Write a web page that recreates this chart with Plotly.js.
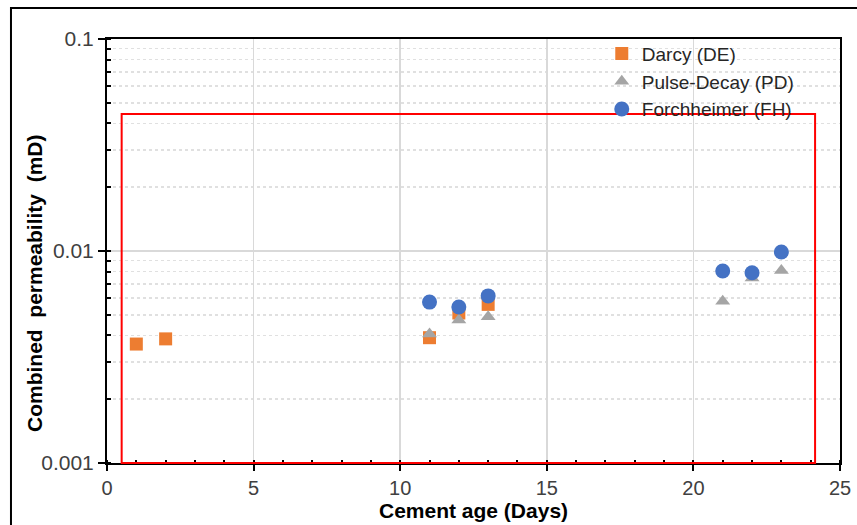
<!DOCTYPE html>
<html>
<head>
<meta charset="utf-8">
<script src="https://cdn.plot.ly/plotly-3.0.1.min.js"></script>
<style>html,body{margin:0;padding:0;background:#fff;}#chart{width:857px;height:525px;}</style>
</head>
<body>
<div id="chart"></div>
<script>
// Data
const darcyDays = [1, 2, 11, 12, 13];
const darcyPerm = [0.00364, 0.00385, 0.0039, 0.0051, 0.0056];

const pulseDays = [11, 12, 13, 21, 22, 23];
const pulsePerm = [0.00406, 0.00473, 0.0049, 0.0058, 0.00746, 0.0081];

const forchDays = [11, 12, 13, 21, 22, 23];
const forchPerm = [0.00574, 0.00544, 0.00614, 0.00805, 0.0079, 0.0099];

const yTickVals = [0.001, 0.01, 0.1];
const yTickText = ['0.001', '0.01', '0.1'];

const xTitle = 'Cement age (Days)';
const yTitle = 'Combined  permeability  (mD)';

const traces = [
  {x: darcyDays, y: darcyPerm, name: 'Darcy (DE)', mode: 'markers', type: 'scatter',
   marker: {symbol: 'square', size: 13, color: '#ED7D31'}},
  {x: pulseDays, y: pulsePerm, name: 'Pulse-Decay (PD)', mode: 'markers', type: 'scatter',
   marker: {symbol: 'triangle-up', size: 13, color: '#A5A5A5'}},
  {x: forchDays, y: forchPerm, name: 'Forchheimer (FH)', mode: 'markers', type: 'scatter',
   marker: {symbol: 'circle', size: 15, color: '#4472C4'}}
];

const layout = {
  width: 857, height: 525,
  margin: {l: 107, r: 17, t: 39, b: 62},
  paper_bgcolor: '#ffffff', plot_bgcolor: '#ffffff',
  font: {family: 'Liberation Sans, Arial, sans-serif', color: '#404040'},
  showlegend: true,
  legend: {x: 0.675, y: 1.01, xanchor: 'left', yanchor: 'top', bgcolor: 'rgba(0,0,0,0)',
           font: {size: 19, color: '#262626'}, tracegroupgap: 0, itemwidth: 30},
  xaxis: {
    range: [0, 25], dtick: 5, tick0: 0,
    showline: true, linecolor: '#000', linewidth: 2, mirror: true,
    ticks: 'outside', ticklen: 6, tickwidth: 2, tickcolor: '#000',
    showgrid: true, gridcolor: '#d9d9d9', gridwidth: 1.5, zeroline: false,
    tickfont: {size: 20, color: '#404040'},
    minor: {dtick: 1, ticks: 'inside', ticklen: 3, tickwidth: 2, tickcolor: '#000', showgrid: false}
  },
  yaxis: {
    type: 'log', range: [-3, -1],
    tickvals: yTickVals, ticktext: yTickText,
    showline: true, linecolor: '#000', linewidth: 2, mirror: true,
    ticks: 'outside', ticklen: 7, tickwidth: 2, tickcolor: '#000',
    showgrid: true, gridcolor: '#d9d9d9', gridwidth: 1.5, zeroline: false,
    tickfont: {size: 21, color: '#404040'},
    minor: {dtick: 'D1', ticks: 'inside', ticklen: 4, tickwidth: 2, tickcolor: '#000',
            showgrid: true, gridcolor: '#e0e0e0', griddash: 'dot', gridwidth: 1.5}
  },
  annotations: [
    {text: '<b>' + xTitle + '</b>', xref: 'paper', yref: 'paper', x: 0.5, y: -0.111,
     xanchor: 'center', yanchor: 'middle', showarrow: false, font: {size: 21, color: '#000'}},
    {text: '<b>' + yTitle + '</b>', xref: 'paper', yref: 'paper', x: -0.0996, y: 0.4245,
     xanchor: 'center', yanchor: 'middle', textangle: -90, showarrow: false, font: {size: 21, color: '#000'}}
  ],
  shapes: [
    {type: 'rect', xref: 'x', yref: 'paper', x0: 0.5, x1: 24.15, y0: 0, y1: 0.823,
     line: {color: '#FF0000', width: 2}, fillcolor: 'rgba(0,0,0,0)', layer: 'above'},
    {type: 'rect', xref: 'paper', yref: 'paper', x0: -0.131, x1: 1.2, y0: -0.3, y1: 1.073,
     line: {color: '#000', width: 2}, fillcolor: 'rgba(0,0,0,0)', layer: 'above'}
  ]
};

Plotly.newPlot('chart', traces, layout, {displayModeBar: false, staticPlot: true});
</script>
</body>
</html>
